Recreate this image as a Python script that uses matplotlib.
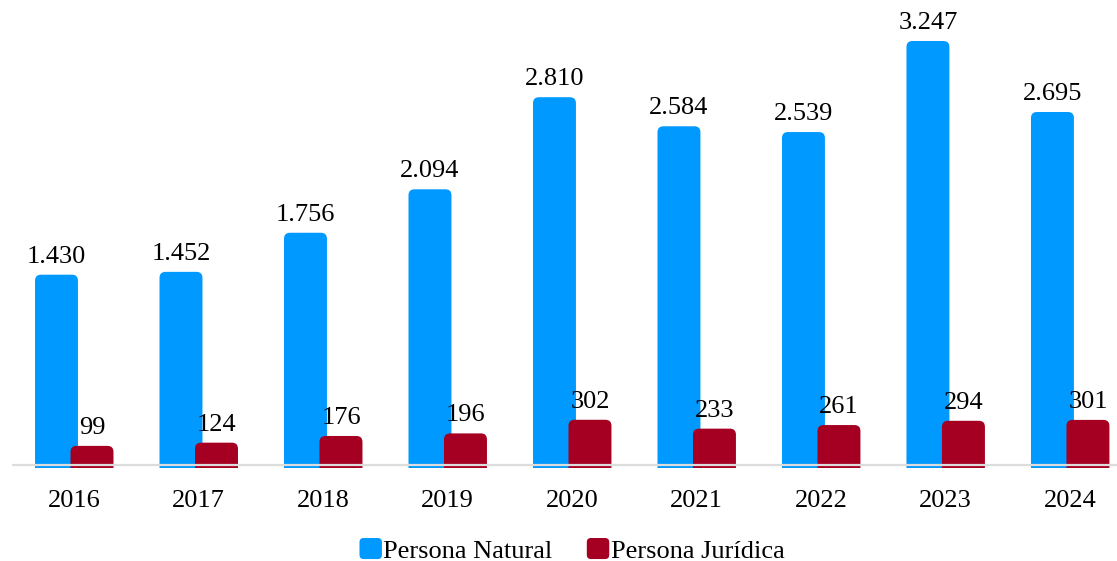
import matplotlib.pyplot as plt
from matplotlib.patches import FancyBboxPatch, Patch
from matplotlib.legend_handler import HandlerPatch
import numpy as np

plt.rcParams['font.family'] = ['Liberation Serif', 'DejaVu Serif']

years = ['2016', '2017', '2018', '2019', '2020', '2021', '2022', '2023', '2024']
natural = [1430, 1452, 1756, 2094, 2810, 2584, 2539, 3247, 2695]
juridica = [99, 124, 176, 196, 302, 233, 261, 294, 301]

blue = '#0099ff'
red = '#a50021'

def fmt(v):
    return f'{v:,}'.replace(',', '.')

fig = plt.figure(figsize=(11.17, 5.61), dpi=100)
ax = fig.add_axes([12 / 1117, (561 - 468) / 561, 1 - 12 / 1117, (468 - 10) / 561])

x = np.arange(len(years))
width = 0.345
off = 0.1426
ymin, ymax = -73, 3488
ax.set_xlim(-0.5, 8.376)
ax.set_ylim(ymin, ymax)

# pixels per data unit, used to keep the rounded corners round
px_x = 124.5
px_y = 458 / (ymax - ymin)
aspect = px_x / px_y
r = 6 / px_x

def rounded_bars(xs, vals, color):
    for xi, v in zip(xs, vals):
        bottom = -300
        p = FancyBboxPatch((xi - width / 2, bottom), width, v - bottom,
                           boxstyle=f'round,pad=0,rounding_size={r}',
                           mutation_aspect=aspect, facecolor=color,
                           edgecolor='none', clip_on=True)
        ax.add_patch(p)
        ax.text(xi, v + 55, fmt(v), ha='center', va='bottom', fontsize=19)

rounded_bars(x - off, natural, blue)
rounded_bars(x + off, juridica, red)

# light baseline, a little above the bar bottoms
ax.axhline(ymin + 3 / px_y, color='#dcdcdc', lw=1.6, zorder=5)

for s in ax.spines.values():
    s.set_visible(False)
ax.set_yticks([])
ax.set_xticks(x)
ax.set_xticklabels(years, fontsize=19)
ax.tick_params(axis='x', length=0, pad=16)

def round_handle(legend, orig_handle, xdescent, ydescent, width, height, fontsize):
    return FancyBboxPatch((-xdescent, -ydescent), width, height,
                          boxstyle='round,pad=0,rounding_size=3')

handles = [Patch(facecolor=blue, edgecolor='none', label='Persona Natural'),
           Patch(facecolor=red, edgecolor='none', label='Persona Jurídica')]
fig.legend(handles=handles, loc='center', bbox_to_anchor=(0.512, 0.019),
           ncol=2, frameon=False, fontsize=19, handlelength=0.85,
           handleheight=0.85, handletextpad=0.05, columnspacing=1.3,
           handler_map={Patch: HandlerPatch(patch_func=round_handle)})

fig.savefig('out.png', dpi=100)
